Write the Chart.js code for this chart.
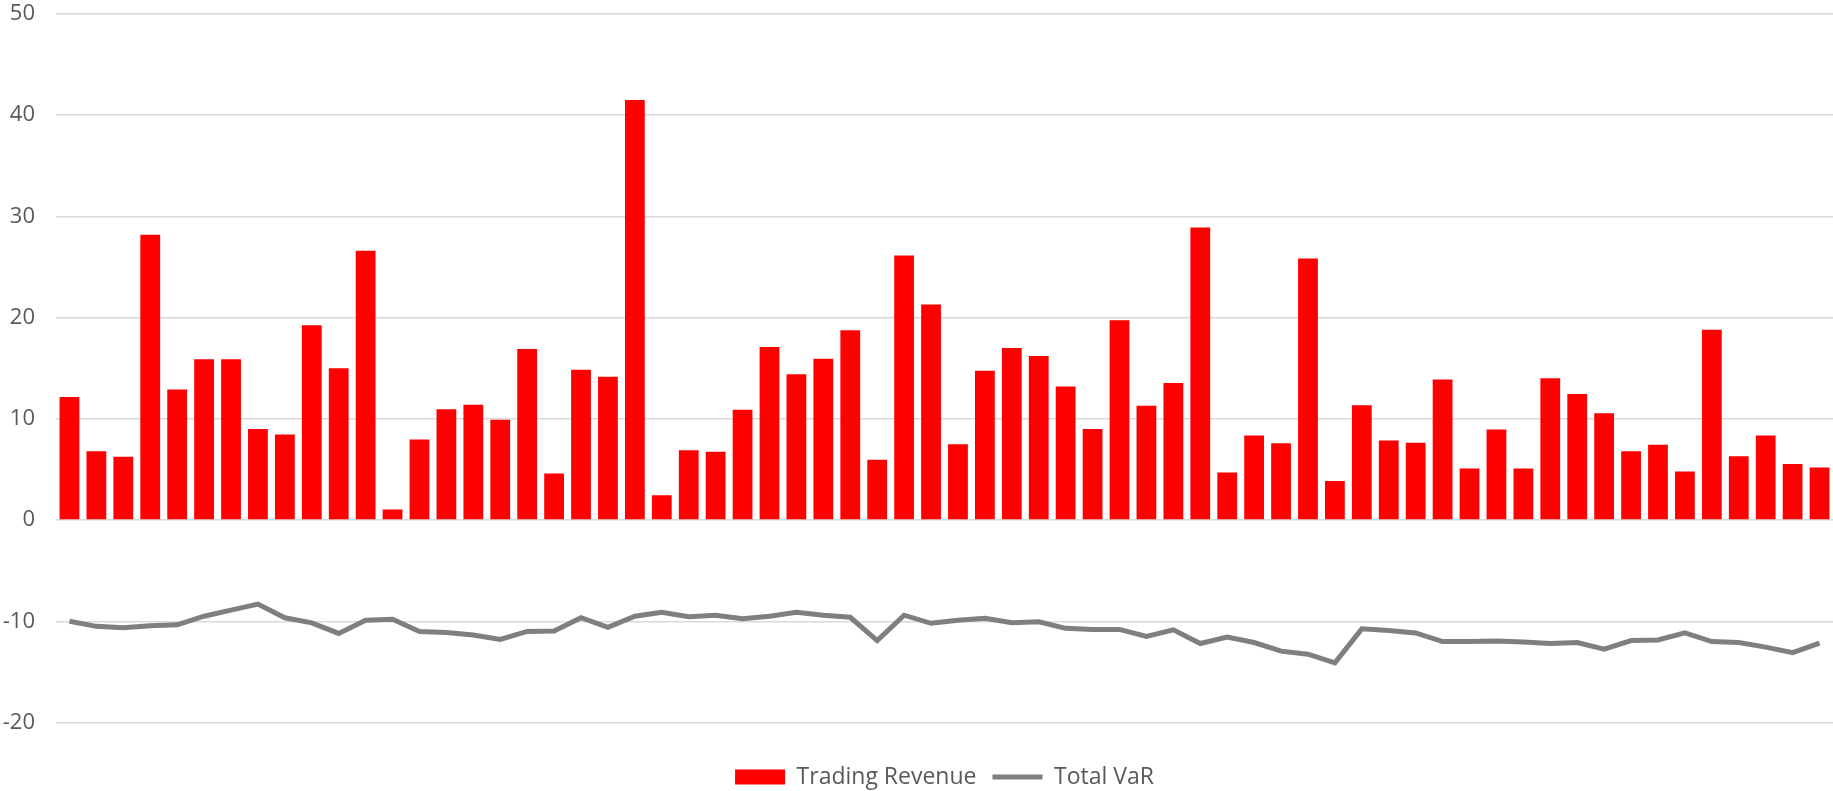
<!DOCTYPE html>
<html>
<head>
<meta charset="utf-8">
<title>Trading Revenue vs Total VaR</title>
<script src="https://cdn.jsdelivr.net/npm/chart.js@4/dist/chart.umd.min.js"></script>
<style>
    html, body { margin: 0; padding: 0; background: #ffffff; }
    #wrap { width: 1833px; height: 791px; }
</style>
</head>
<body>
<div id="wrap"><canvas id="myChart"></canvas></div>
<script>
// Daily trading revenue and total VaR
let tradingRevenue = [
    12.15, 6.8, 6.25, 28.2, 12.9, 15.9, 15.9, 9.0, 8.45, 19.25,
    15.0, 26.6, 1.05, 7.95, 10.95, 11.4, 9.9, 16.9, 4.6, 14.85,
    14.15, 41.5, 2.45, 6.9, 6.75, 10.9, 17.1, 14.4, 15.95, 18.75,
    5.95, 26.15, 21.3, 7.5, 14.75, 17.0, 16.2, 13.2, 9.0, 19.75,
    11.3, 13.55, 28.9, 4.7, 8.35, 7.6, 25.85, 3.85, 11.35, 7.85,
    7.65, 13.9, 5.1, 8.95, 5.1, 14.0, 12.45, 10.55, 6.8, 7.45,
    4.8, 18.8, 6.3, 8.35, 5.55, 5.2
];

let totalVaR = [
    -10.0, -10.5, -10.65, -10.45, -10.35, -9.5, -8.9, -8.3, -9.65, -10.15,
    -11.2, -9.9, -9.8, -11.0, -11.1, -11.35, -11.8, -11.0, -10.95, -9.65,
    -10.6, -9.5, -9.1, -9.55, -9.4, -9.75, -9.5, -9.1, -9.4, -9.6,
    -11.9, -9.4, -10.2, -9.9, -9.7, -10.15, -10.05, -10.7, -10.8, -10.8,
    -11.5, -10.85, -12.2, -11.55, -12.1, -12.95, -13.25, -14.1, -10.75, -10.9,
    -11.15, -12.0, -12.0, -11.95, -12.05, -12.2, -12.1, -12.75, -11.9, -11.85,
    -11.15, -12.0, -12.1, -12.55, -13.1, -12.15
];

let days = Array.from({length: tradingRevenue.length}, (_, i) => i + 1);

let yMin = -20;
let yMax = 50;
let yStep = 10;

let textColor = '#595959';
let gridColor = '#d9d9d9';

let chartData = {
    type: 'bar',
    data: {
        labels: days,
        datasets: [
            {
                label: 'Trading Revenue',
                data: tradingRevenue,
                backgroundColor: '#ff0000',
                borderWidth: 0,
                categoryPercentage: 1.0,
                barPercentage: 0.735,
                pointStyle: 'rect'
            },
            {
                type: 'line',
                label: 'Total VaR',
                data: totalVaR,
                borderColor: '#7f7f7f',
                backgroundColor: '#7f7f7f',
                borderWidth: 5,
                pointRadius: 0,
                pointHoverRadius: 0,
                pointStyle: 'line',
                tension: 0,
                fill: false
            }
        ]
    },
    options: {
        responsive: true,
        maintainAspectRatio: false,
        animation: false,
        layout: {
            padding: { top: 14, right: 0, bottom: -7.5, left: 0 }
        },
        scales: {
            x: {
                // hidden labels, only used to leave room above the legend
                display: true,
                offset: true,
                ticks: { display: false },
                grid: { display: false },
                border: { display: false },
                afterFit: function (scale) {
                    scale.height = 27;
                }
            },
            y: {
                min: yMin,
                max: yMax,
                afterFit: function (scale) {
                    scale.width = 56;
                    scale.paddingTop = 0;
                    scale.paddingBottom = 0;
                },
                ticks: {
                    stepSize: yStep,
                    padding: 21,
                    color: textColor,
                    font: { family: 'Open Sans', size: 22 }
                },
                grid: {
                    color: gridColor,
                    lineWidth: 1.5,
                    drawTicks: false
                },
                border: { display: false }
            }
        },
        plugins: {
            legend: {
                position: 'bottom',
                fullSize: false, // centre under the plot area, not the canvas
                labels: {
                    usePointStyle: true,
                    pointStyleWidth: 50,
                    boxHeight: 15,
                    padding: 16,
                    color: textColor,
                    font: { family: 'Open Sans', size: 23 }
                }
            },
            tooltip: { enabled: false }
        }
    }
};

let ctx = document.getElementById('myChart').getContext('2d');
let myChart = new Chart(ctx, chartData);
</script>
</body>
</html>
